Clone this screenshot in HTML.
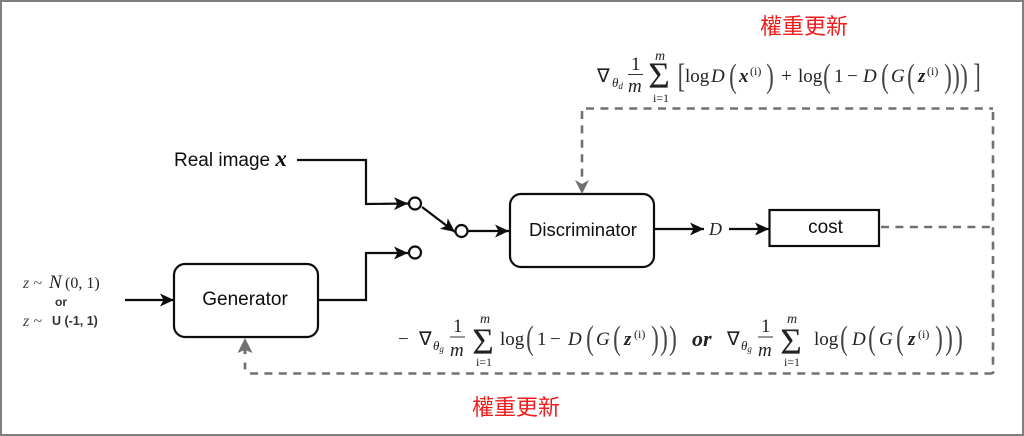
<!DOCTYPE html>
<html><head><meta charset="utf-8">
<style>
html,body{margin:0;padding:0;background:#fff}
svg{display:block}
text{font-family:"Liberation Serif",serif;fill:#222}
.s{font-family:"Liberation Sans",sans-serif;font-size:19px;fill:#111}
.m{font-size:19px}
.i{font-style:italic}
.b{font-weight:bold;font-style:italic}
.t{font-size:12px;text-anchor:middle}
.p{font-size:34px;text-anchor:middle;font-weight:normal;fill:#444;transform-box:fill-box;transform-origin:center;transform:scaleX(.68)}
.sum{font-size:37px;text-anchor:middle}
.red{font-family:"Liberation Sans","Noto Sans CJK TC",sans-serif;font-size:22px;fill:#f01c1c}
.sup{font-size:12px}
.sub{font-size:13px;font-style:italic}
</style></head><body>
<svg width="1024" height="436" viewBox="0 0 1024 436" xmlns="http://www.w3.org/2000/svg">
<defs>
<marker id="a" markerUnits="userSpaceOnUse" markerWidth="16" markerHeight="14" refX="14" refY="7" orient="auto"><path d="M0 0.500 L14 7 L0 13.500 L3.500 7Z" fill="#111"/></marker>
<filter id="f" x="-5%" y="-5%" width="110%" height="110%"><feGaussianBlur stdDeviation="0.35"/></filter>
</defs>
<rect x="1" y="1" width="1022" height="434" fill="#fff" stroke="#7f7f7f" stroke-width="2"/>
<g filter="url(#f)">
<!-- boxes -->
<g fill="#fff" stroke="#111" stroke-width="2.2">
<rect x="174" y="264" width="144" height="73" rx="11"/>
<rect x="510" y="194" width="144" height="73" rx="11"/>
<rect x="769.500" y="210" width="109.500" height="36"/>
</g>
<!-- connectors -->
<g fill="none" stroke="#111" stroke-width="2.2">
<path d="M297 160H366V204L408 203.500" marker-end="url(#a)"/>
<path d="M318 300H366V253H408" marker-end="url(#a)"/>
<path d="M125 300H174" marker-end="url(#a)"/>
<path d="M422 207L455 232" marker-end="url(#a)"/>
<path d="M468 231H509" marker-end="url(#a)"/>
<path d="M654 229H704" marker-end="url(#a)"/>
<path d="M729 229H769" marker-end="url(#a)"/>
<circle cx="415" cy="203.500" r="6" fill="#fff"/>
<circle cx="461.500" cy="231" r="6" fill="#fff"/>
<circle cx="415" cy="252.500" r="6" fill="#fff"/>
</g>
<!-- dashed -->
<g fill="none" stroke="#707070" stroke-width="2.600" stroke-dasharray="8 6.400">
<path d="M881 227H993"/>
<path d="M993 112V374"/>
<path d="M586 108.500H993"/>
<path d="M582 111V180"/>
<path d="M250 373.500H993"/>
<path d="M245 362.500V369.500" stroke-dasharray="none"/>
</g>
<path d="M582 194L575 180L582 184L589 180Z" fill="#707070"/>
<path d="M245 338L237.500 353L243.500 350.500V354H246.500V350.500L252.500 353Z" fill="#707070"/>
<!-- labels -->
<text class="s" x="174" y="166">Real image <tspan class="b" style="font-family:'Liberation Serif',serif;font-size:23px">x</tspan></text>
<text class="s" x="245" y="305" text-anchor="middle">Generator</text>
<text class="s" x="583" y="236" text-anchor="middle" style="font-size:18.500px">Discriminator</text>
<text class="s" x="825.500" y="233" text-anchor="middle">cost</text>
<text class="i" x="709" y="235" style="font-size:18px">D</text>
<!-- left input -->
<text class="i" x="23" y="288" style="font-size:16px;fill:#444">z ~</text>
<text class="i" x="49" y="288" style="font-size:19px">N</text>
<text x="65" y="288" style="font-size:16px">(0, 1)</text>
<text class="s" x="61" y="306" text-anchor="middle" style="font-size:12px;font-weight:bold;fill:#333">or</text>
<text class="i" x="23" y="326" style="font-size:16px;fill:#444">z ~</text>
<text class="s" x="52" y="325" style="font-size:12.500px;font-weight:bold;fill:#333">U (-1, 1)</text>
<!-- top equation -->
<text class="m" x="597" y="82">∇</text><text class="sub" x="612" y="87">θ<tspan font-size="9" dy="2">d</tspan></text>
<text class="m" x="631" y="70">1</text><path d="M628 74.500H643" stroke="#333" stroke-width="1"/><text class="m i" x="628" y="92">m</text>
<text class="sum" x="659" y="88">Σ</text><text class="t i" x="660" y="60" style="font-size:14px">m</text><text class="t" x="661" y="102">i=1</text>
<text class="p" x="681.500" y="87">[</text>
<text class="m" x="685" y="82">log</text><text class="m i" x="711" y="82">D</text>
<text class="p" x="733" y="87">(</text><text class="m b" x="739" y="82">x</text><text class="sup" x="750" y="75">(i)</text><text class="p" x="770" y="87">)</text>
<text class="m" x="781" y="82">+</text><text class="m" x="798" y="82">log</text>
<text class="p" x="827" y="87">(</text><text class="m" x="834" y="82">1</text><text class="m" x="847" y="82">−</text><text class="m i" x="863" y="82">D</text>
<text class="p" x="885" y="87">(</text><text class="m i" x="891" y="82">G</text>
<text class="p" x="911" y="87">(</text><text class="m b" x="918" y="82">z</text><text class="sup" x="927" y="75">(i)</text>
<text class="p" x="948" y="87">)</text><text class="p" x="956" y="87">)</text><text class="p" x="964" y="87">)</text>
<text class="p" x="977" y="87">]</text>
<!-- bottom equation -->
<text class="m" x="398" y="345">−</text>
<text class="m" x="419" y="345">∇</text><text class="sub" x="433" y="350">θ<tspan font-size="9" dy="2">g</tspan></text>
<text class="m" x="453" y="332">1</text><path d="M450 337H465" stroke="#333" stroke-width="1"/><text class="m i" x="450" y="356">m</text>
<text class="sum" x="483" y="354">Σ</text><text class="t i" x="485" y="323" style="font-size:14px">m</text><text class="t" x="484" y="366">i=1</text>
<text class="m" x="500" y="345">log</text>
<text class="p" x="530" y="349">(</text><text class="m" x="537" y="345">1</text><text class="m" x="550" y="345">−</text><text class="m i" x="568" y="345">D</text>
<text class="p" x="590" y="349">(</text><text class="m i" x="596" y="345">G</text>
<text class="p" x="617" y="349">(</text><text class="m b" x="624" y="345">z</text><text class="sup" x="634" y="338">(i)</text>
<text class="p" x="655" y="349">)</text><text class="p" x="664" y="349">)</text><text class="p" x="673" y="349">)</text>
<text class="b" x="692" y="346" style="font-size:22px;fill:#222">or</text>
<text class="m" x="727" y="345">∇</text><text class="sub" x="741" y="350">θ<tspan font-size="9" dy="2">g</tspan></text>
<text class="m" x="761" y="332">1</text><path d="M758 337H773" stroke="#333" stroke-width="1"/><text class="m i" x="758" y="356">m</text>
<text class="sum" x="791" y="354">Σ</text><text class="t i" x="792" y="323" style="font-size:14px">m</text><text class="t" x="792" y="366">i=1</text>
<text class="m" x="814" y="345">log</text>
<text class="p" x="844" y="349">(</text><text class="m i" x="852" y="345">D</text>
<text class="p" x="872" y="349">(</text><text class="m i" x="879" y="345">G</text>
<text class="p" x="900" y="349">(</text><text class="m b" x="908" y="345">z</text><text class="sup" x="918" y="338">(i)</text>
<text class="p" x="939" y="349">)</text><text class="p" x="949" y="349">)</text><text class="p" x="959" y="349">)</text>
</g>
<text class="red" x="760" y="34">權重更新</text>
<text class="red" x="472" y="415">權重更新</text>
</svg>
</body></html>
